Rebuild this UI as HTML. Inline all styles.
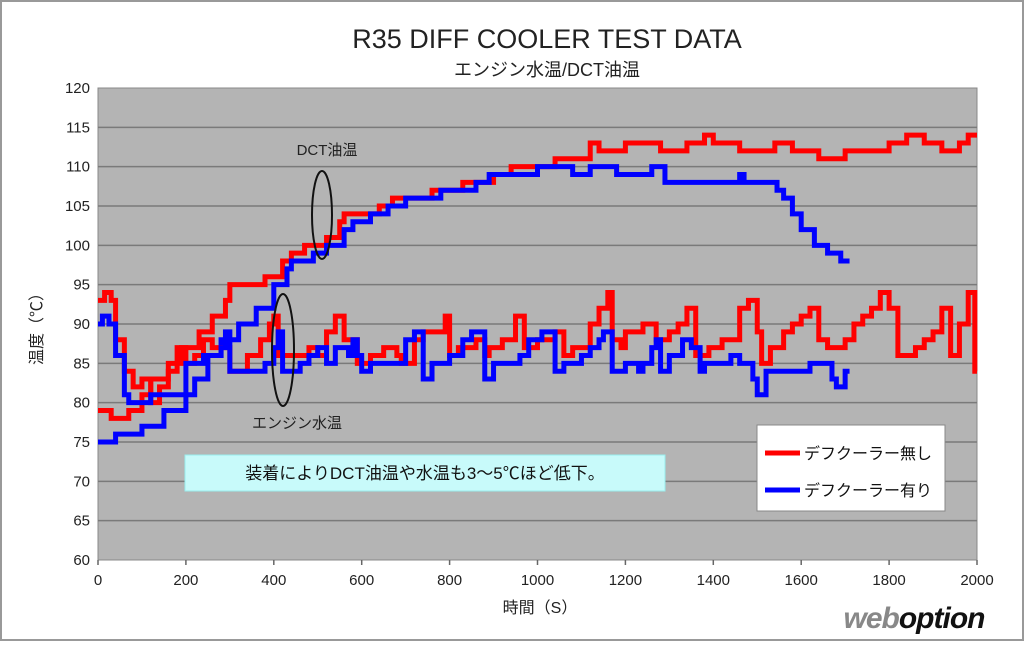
<!DOCTYPE html>
<html><head><meta charset="utf-8"><style>
body{margin:0;width:1024px;height:642px;background:#fff;overflow:hidden}
text{font-family:"Liberation Sans","Noto Sans CJK JP",sans-serif}
</style></head><body>
<svg id="s" width="1024" height="642" viewBox="0 0 1024 642" xmlns="http://www.w3.org/2000/svg">
<rect x="1" y="1" width="1022" height="639" fill="#fff" stroke="#999" stroke-width="2"/>
<text x="547" y="48" font-size="27" text-anchor="middle" fill="#222">R35 DIFF COOLER TEST DATA</text>
<text x="547" y="76" font-size="18" text-anchor="middle" fill="#222">エンジン水温/DCT油温</text>
<rect x="98" y="88" width="879" height="472" fill="#b4b4b4" stroke="#888"/>
<g id="grid" stroke="#7a7a7a" stroke-width="1.5"></g>
<g id="lab" font-size="15" fill="#222"></g>
<text x="540" y="613" font-size="16" text-anchor="middle" fill="#222">時間（S）</text>
<text transform="translate(42,325) rotate(-90)" font-size="16" text-anchor="middle" fill="#222">温度（℃）</text>
<g id="lines" fill="none" stroke-width="5" stroke-linejoin="miter"></g>
<ellipse cx="322" cy="215" rx="10" ry="44" fill="none" stroke="#111" stroke-width="2"/>
<ellipse cx="283" cy="350" rx="11" ry="56" fill="none" stroke="#111" stroke-width="2"/>
<text x="327" y="155" font-size="15" text-anchor="middle" fill="#222">DCT油温</text>
<text x="297" y="428" font-size="15" text-anchor="middle" fill="#222">エンジン水温</text>
<rect x="185" y="455" width="480" height="36" fill="#c8fafa" stroke="#9ee"/>
<text x="425" y="479" font-size="17" text-anchor="middle" fill="#111">装着によりDCT油温や水温も3～5℃ほど低下。</text>
<rect x="757" y="425" width="188" height="86" fill="#fff" stroke="#888"/>
<line x1="765" y1="453" x2="800" y2="453" stroke="#f00" stroke-width="5"/>
<line x1="765" y1="490" x2="800" y2="490" stroke="#00f" stroke-width="5"/>
<text x="804" y="459" font-size="16" fill="#111">デフクーラー無し</text>
<text x="804" y="496" font-size="16" fill="#111">デフクーラー有り</text>
<text x="914" y="628" font-size="30" font-weight="bold" font-style="italic" text-anchor="middle" fill="#111" letter-spacing="-1"><tspan fill="#888">web</tspan>option</text>
</svg>
<script>
var X=t=>98+t*0.4395, Y=v=>560-(v-60)*7.867;
var g=document.getElementById('grid'),l=document.getElementById('lab'),ns='http://www.w3.org/2000/svg';
function el(p,tag,a,txt){var e=document.createElementNS(ns,tag);for(var k in a)e.setAttribute(k,a[k]);if(txt!=null)e.textContent=txt;p.appendChild(e);return e;}
for(var v=65;v<=115;v+=5)el(g,'line',{x1:98,x2:977,y1:Y(v),y2:Y(v)});
for(var v=60;v<=120;v+=5)el(l,'text',{x:90,y:Y(v)+5,'text-anchor':'end'},v);
for(var t=0;t<=2000;t+=200){el(l,'text',{x:X(t),y:585,'text-anchor':'middle'},t);el(g,'line',{x1:X(t),x2:X(t),y1:560,y2:565,stroke:'#666'});}
function step(d,c,end){var p=[];for(var i=0;i<d.length;i+=2){var x=X(d[i]),y=Y(d[i+1]);if(i>0)p.push(x+','+Y(d[i-1]));p.push(x+','+y);}p.push(X(end)+','+Y(d[d.length-1]));el(document.getElementById('lines'),'polyline',{points:p.join(' '),stroke:c});}
step([0,79,30,78,70,79,100,81,120,83,160,85,190,87,230,89,260,91,290,93,300,95,380,96,420,98,440,99,470,100,520,101,550,103,560,104,620,104,640,105,670,106,760,107,830,108,900,109,940,110,1040,111,1120,113,1140,112,1200,113,1280,112,1340,113,1380,114,1400,113,1460,112,1540,113,1580,112,1640,111,1700,112,1800,113,1840,114,1880,113,1920,112,1960,113,1980,114],'#f00',2000);
step([0,75,40,76,100,77,150,79,200,81,220,83,250,86,280,88,320,90,360,92,400,95,430,97,440,98,490,99,520,100,560,102,580,103,620,104,660,105,700,106,780,107,860,108,890,109,1000,110,1080,109,1120,110,1180,109,1260,110,1290,108,1440,108,1460,109,1470,108,1530,108,1545,107,1560,106,1580,104,1600,102,1630,100,1660,99,1690,98],'#00f',1710);
step([0,93,15,94,30,93,40,88,60,84,80,82,100,83,120,80,140,82,160,84,180,87,200,85,220,86,240,88,260,87,300,84,340,86,370,88,390,90,400,91,410,86,440,86,480,87,500,86,520,89,540,91,560,88,590,85,620,86,650,87,680,86,690,85,720,88,740,89,790,91,800,86,820,87,860,88,880,86,890,87,920,88,950,91,970,87,1000,88,1040,89,1060,86,1080,87,1120,90,1140,92,1160,94,1170,88,1190,87,1200,89,1240,90,1270,88,1300,89,1320,90,1340,92,1360,86,1390,87,1420,88,1460,92,1480,93,1500,89,1510,85,1530,87,1560,89,1580,90,1600,91,1620,92,1640,88,1660,87,1700,88,1720,90,1740,91,1760,92,1780,94,1800,92,1820,86,1860,87,1880,88,1900,89,1920,92,1940,86,1960,90,1980,94,1995,84],'#f00',2000);
step([0,90,10,91,25,90,40,86,60,81,70,80,120,81,200,85,240,86,280,87,290,89,300,84,340,84,380,85,400,87,410,89,420,84,460,85,480,86,500,87,520,85,540,87,570,86,580,88,590,86,600,84,620,85,680,85,700,88,720,89,740,83,760,85,800,86,830,88,850,89,880,83,900,85,940,85,960,86,980,88,1010,89,1040,84,1060,85,1100,86,1120,87,1140,88,1150,89,1170,84,1200,85,1230,84,1240,85,1260,87,1270,88,1280,84,1300,86,1330,88,1350,87,1370,84,1380,85,1420,85,1440,86,1460,85,1490,83,1500,81,1520,84,1600,84,1620,85,1660,85,1670,83,1680,82,1700,84],'#00f',1710);
</script>
</body></html>
